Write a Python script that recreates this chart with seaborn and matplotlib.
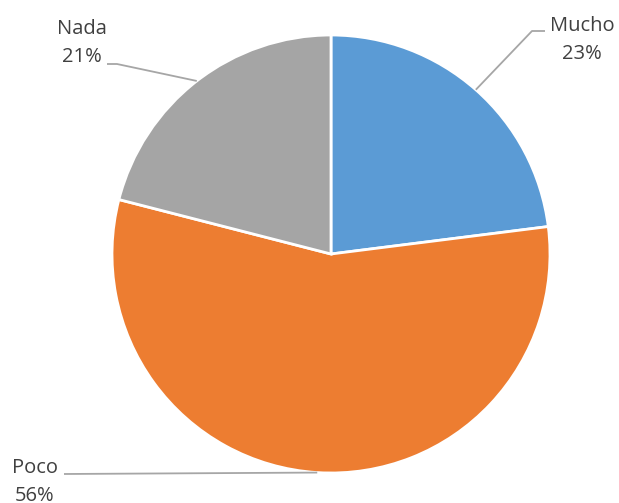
import numpy as np
import matplotlib
matplotlib.use("Agg")
import matplotlib.pyplot as plt
import seaborn as sns

# Survey answers and their shares (%)
categories = ["Mucho", "Poco", "Nada"]
shares = [23, 56, 21]
colors = ["#5B9BD5", "#ED7D31", "#A5A5A5"]

sns.set_theme(style="white")
plt.rcParams["font.family"] = ["Open Sans", "DejaVu Sans"]

W, H = 619, 503
fig = plt.figure(figsize=(W / 100, H / 100), dpi=100)
ax = fig.add_axes([0, 0, 1, 1])

cx, cy, r = 331, H - 254, 219
wedges, _ = ax.pie(
    shares, colors=colors, startangle=90, counterclock=False,
    center=(cx, cy), radius=r, frame=True,
    wedgeprops=dict(edgecolor="white", linewidth=2),
)
ax.set_xlim(0, W)
ax.set_ylim(0, H)
ax.set_aspect("equal")
ax.axis("off")

# Label placement: elbow point, line end, text anchor
layout = {
    "Mucho": dict(elbow=(532, H - 31), end=(545, H - 31), text=(582, H - 40)),
    "Nada": dict(elbow=(117, H - 64), end=(107, H - 64), text=(82, H - 43)),
    "Poco": dict(elbow=None, end=(64, H - 474), text=(35, H - 482)),
}

line_col = "#A6A6A6"
text_col = "#404040"
for w, cat, val in zip(wedges, categories, shares):
    mid = np.deg2rad((w.theta1 + w.theta2) / 2)
    ax_ = cx + r * np.cos(mid)
    ay_ = cy + r * np.sin(mid)
    L = layout[cat]
    if L["elbow"] is None:
        xs = [ax_, L["end"][0]]
        ys = [ay_, L["end"][1]]
    else:
        xs = [ax_, L["elbow"][0], L["end"][0]]
        ys = [ay_, L["elbow"][1], L["end"][1]]
    ax.plot(xs, ys, color=line_col, lw=1.3, solid_capstyle="butt", zorder=1)
    ax.text(L["text"][0], L["text"][1], f"{cat}\n{val}%", ha="center", va="center",
            fontsize=14.5, color=text_col, linespacing=1.5)

fig.savefig("out.png", dpi=100)
